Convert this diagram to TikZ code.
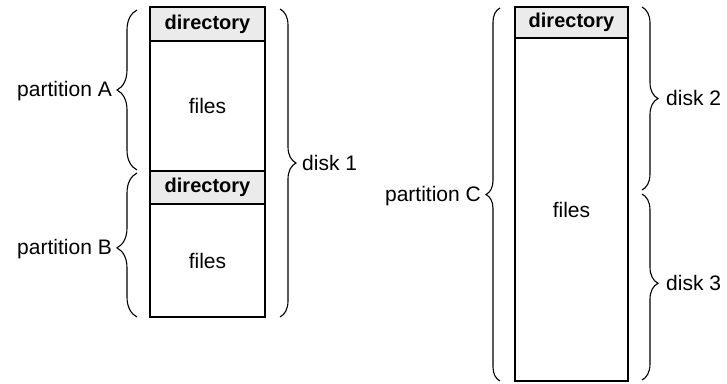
\documentclass[tikz,border=0pt]{standalone}
\usepackage{fontspec}
\setmainfont{Liberation Sans}
\usetikzlibrary{decorations.pathreplacing}

\tikzset{
  part/.style={draw, line width=1.5pt, inner sep=0pt, minimum width=#1},
  hdr/.style={part=#1, fill=black!8, font=\bfseries\fontsize{20}{24}\selectfont},
  body/.style={part=#1, fill=white, font=\fontsize{21}{24}\selectfont},
  brc/.style={decorate, line width=1.1pt,
    decoration={brace, amplitude=#1, raise=0pt}},
  lbl/.style={inner sep=0pt, font=\fontsize{21}{24}\selectfont}
}

\begin{document}
\begin{tikzpicture}[x=1pt, y=-1pt]
  \useasboundingbox (0,0) rectangle (727,383);

  % disk 1: partitions A and B
  \node[hdr=115pt, minimum height=34pt]  (dirA)   at (207.5,24)    {directory};
  \node[body=115pt, minimum height=130pt] (filesA) at (207.5,106)   {files};
  \node[hdr=115pt, minimum height=33pt]  (dirB)   at (207.5,187.5) {directory};
  \node[body=115pt, minimum height=113pt] (filesB) at (207.5,260.5) {files};

  % disks 2 and 3: partition C
  \node[hdr=113pt, minimum height=31pt]  (dirC)   at (571.5,22.5)  {directory};
  \node[body=113pt, minimum height=343pt] (filesC) at (571.5,209.5) {files};

  % brace end points
  \coordinate (aTop) at (137,10);  \coordinate (aBot) at (137,170);
  \coordinate (bTop) at (137,173); \coordinate (bBot) at (137,317);
  \coordinate (d1Top) at (280,9);  \coordinate (d1Bot) at (280,317);
  \coordinate (cTop) at (500,8);   \coordinate (cBot) at (500,381);
  \coordinate (d2Top) at (642,7);  \coordinate (d2Bot) at (642,190);
  \coordinate (d3Top) at (642,194); \coordinate (d3Bot) at (642,380);

  % braces
  \draw[brc=20pt] (aBot) -- (aTop);
  \draw[brc=20pt, decoration={aspect=0.48}] (bBot) -- (bTop);
  \draw[brc=16pt] (d1Top) -- (d1Bot);
  \draw[brc=14pt] (cBot) -- (cTop);
  \draw[brc=16pt] (d2Top) -- (d2Bot);
  \draw[brc=16pt, decoration={aspect=0.48}] (d3Top) -- (d3Bot);

  % labels
  \node[lbl, anchor=east] (labA) at (112,91)  {partition A};
  \node[lbl, anchor=east] (labB) at (112,249) {partition B};
  \node[lbl, anchor=west] (lab1) at (302,163) {disk 1};
  \node[lbl, anchor=east] (labC) at (481,196) {partition C};
  \node[lbl, anchor=west] (lab2) at (666,98)  {disk 2};
  \node[lbl, anchor=west] (lab3) at (666,283) {disk 3};
\end{tikzpicture}
\end{document}
